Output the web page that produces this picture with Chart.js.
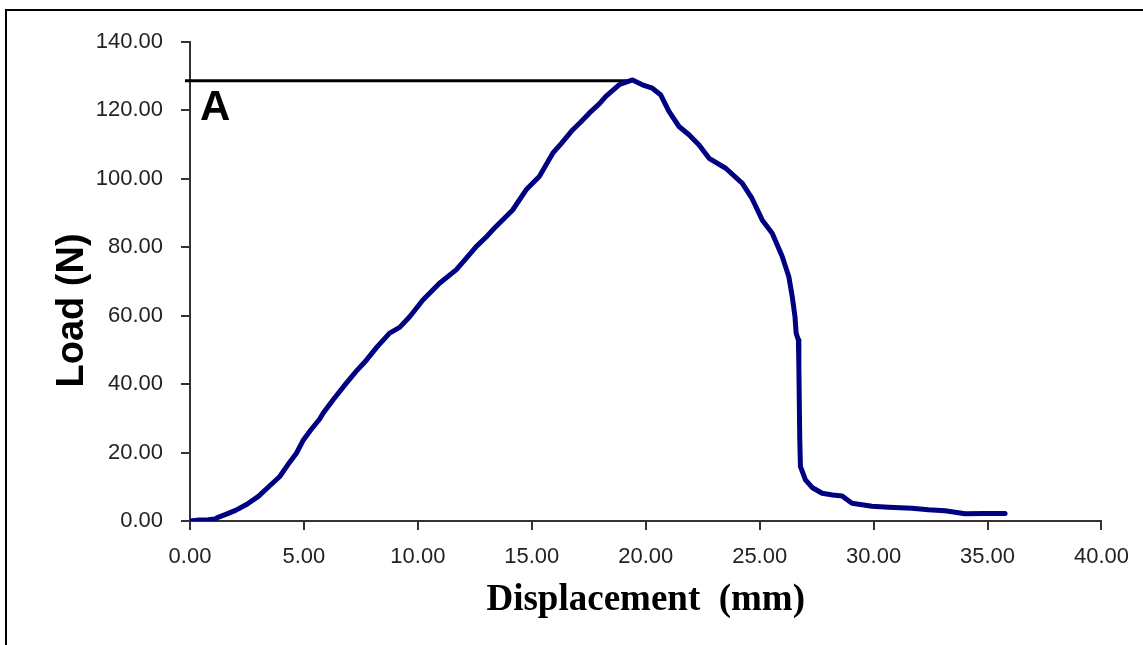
<!DOCTYPE html>
<html>
<head>
<meta charset="utf-8">
<script src="https://cdn.jsdelivr.net/npm/chart.js@4.4.0/dist/chart.umd.min.js"></script>
<style>
  html, body { margin: 0; padding: 0; background: #fff; }
  #wrap { position: relative; width: 1143px; height: 645px; overflow: hidden; }
  #frame { position: absolute; left: 5px; top: 9px; width: 2000px; height: 2000px;
           border-left: 2px solid #000; border-top: 2px solid #000; box-sizing: border-box; }
  canvas { position: absolute; left: 0; top: 0; }
</style>
</head>
<body>
<div id="wrap">
  <div id="frame"></div>
  <canvas id="c" width="1143" height="645"></canvas>
</div>
<script>
// Displacement (mm) and Load (N)
const displacement = [
  0.00, 0.40, 0.80, 1.10, 1.20, 1.60, 2.00, 2.50, 3.00, 3.50,
  3.94, 4.30, 4.67, 4.96, 5.30, 5.69, 5.84, 6.30, 6.86, 7.30,
  7.74, 8.20, 8.76, 9.20, 9.64, 10.22, 10.95, 11.68, 12.10, 12.56,
  13.00, 13.43, 14.16, 14.75, 15.33, 15.92, 16.30, 16.79, 17.15, 17.52,
  17.96, 18.25, 18.83, 19.42, 19.85, 20.29, 20.65, 21.02, 21.46, 21.90,
  22.34, 22.78, 23.51, 24.24, 24.67, 25.11, 25.55, 25.99, 26.28, 26.43,
  26.55, 26.60, 26.70, 26.72, 26.76, 26.79, 27.01, 27.30, 27.74, 28.20,
  28.62, 29.05, 29.93, 30.66, 31.68, 32.40, 33.14, 34.01, 34.80, 35.77
];
const load = [
  0.0, 0.3, 0.4, 0.6, 1.0, 2.0, 3.1, 4.9, 7.2, 10.3,
  13.0, 16.5, 19.8, 23.5, 26.6, 29.8, 31.5, 35.6, 40.3, 43.8,
  47.0, 50.8, 54.9, 56.6, 59.7, 64.6, 69.5, 73.4, 76.6, 80.2,
  83.0, 86.1, 90.9, 96.8, 100.7, 107.5, 110.4, 114.3, 116.6, 119.2,
  121.9, 124.1, 127.5, 128.9, 127.5, 126.5, 124.6, 119.7, 115.3, 112.9,
  109.9, 106.0, 103.1, 98.7, 94.2, 88.0, 84.1, 77.3, 71.4, 65.6,
  59.7, 54.9, 52.9, 45.1, 23.7, 15.9, 12.0, 9.8, 8.1, 7.6,
  7.3, 5.2, 4.3, 4.0, 3.7, 3.3, 3.0, 2.1, 2.2, 2.2
];
// Peak marker line "A"
const peakLineX = [-0.22, 19.42];
const peakLineY = [128.7, 128.7];
const peakLabel = 'A';
const peakLabelPos = [0.44, 117.3];

const xTickRange = [0, 40, 5];
const yTickRange = [0, 140, 20];
const xTitle = 'Displacement  (mm)';
const yTitle = 'Load (N)';

const curve = displacement.map((x, i) => ({ x: x, y: load[i] }));
const peak = peakLineX.map((x, i) => ({ x: x, y: peakLineY[i] }));

const annotate = {
  id: 'annotate',
  afterDraw(chart) {
    const ctx = chart.ctx;
    const xs = chart.scales.x, ys = chart.scales.y, ca = chart.chartArea;
    ctx.save();
    ctx.fillStyle = '#000';
    ctx.font = 'bold 42px "Liberation Sans", Arial, sans-serif';
    ctx.textAlign = 'left';
    ctx.textBaseline = 'alphabetic';
    ctx.fillText(peakLabel, xs.getPixelForValue(peakLabelPos[0]), ys.getPixelForValue(peakLabelPos[1]));
    // y-axis title
    ctx.translate(ca.left - 107, (ca.top + ca.bottom) / 2 + 29);
    ctx.rotate(-Math.PI / 2);
    ctx.font = 'bold 38px "Liberation Sans", Arial, sans-serif';
    ctx.textAlign = 'center';
    ctx.fillText(yTitle, 0, 0);
    ctx.restore();
  }
};

new Chart(document.getElementById('c'), {
  type: 'scatter',
  data: {
    datasets: [
      {
        data: curve,
        showLine: true,
        borderColor: '#000080',
        backgroundColor: '#000080',
        borderWidth: 5,
        pointRadius: 0,
        tension: 0,
        borderJoinStyle: 'round',
        borderCapStyle: 'round'
      },
      {
        data: peak,
        showLine: true,
        borderColor: '#000',
        backgroundColor: '#000',
        borderWidth: 3,
        pointRadius: 0,
        clip: false
      }
    ]
  },
  options: {
    responsive: false,
    animation: false,
    layout: { padding: { left: 0, top: 42, right: 38, bottom: 0 } },
    plugins: { legend: { display: false }, tooltip: { enabled: false } },
    scales: {
      x: {
        type: 'linear',
        min: xTickRange[0], max: xTickRange[1],
        afterFit(s) { s.height = 124; },
        ticks: {
          stepSize: xTickRange[2],
          autoSkip: false, maxRotation: 0,
          padding: 14,
          color: '#222',
          font: { family: '"Liberation Sans", Arial, sans-serif', size: 22 },
          callback: v => Number(v).toFixed(2)
        },
        grid: { drawOnChartArea: false, drawTicks: true, tickLength: 9, color: '#333', lineWidth: 2 },
        border: { display: true, color: '#333', width: 2 },
        title: {
          display: true, text: xTitle, color: '#000',
          font: { family: '"Liberation Serif", "Times New Roman", serif', size: 37, weight: 'bold' },
          padding: { top: 0, bottom: 22 }
        }
      },
      y: {
        type: 'linear',
        min: yTickRange[0], max: yTickRange[1],
        afterFit(s) { s.width = 190; },
        ticks: {
          stepSize: yTickRange[2],
          padding: 18,
          color: '#222',
          font: { family: '"Liberation Sans", Arial, sans-serif', size: 22 },
          callback: v => Number(v).toFixed(2)
        },
        grid: { drawOnChartArea: false, drawTicks: true, tickLength: 9, color: '#333', lineWidth: 2 },
        border: { display: true, color: '#333', width: 2 }
      }
    }
  },
  plugins: [annotate]
});
</script>
</body>
</html>
